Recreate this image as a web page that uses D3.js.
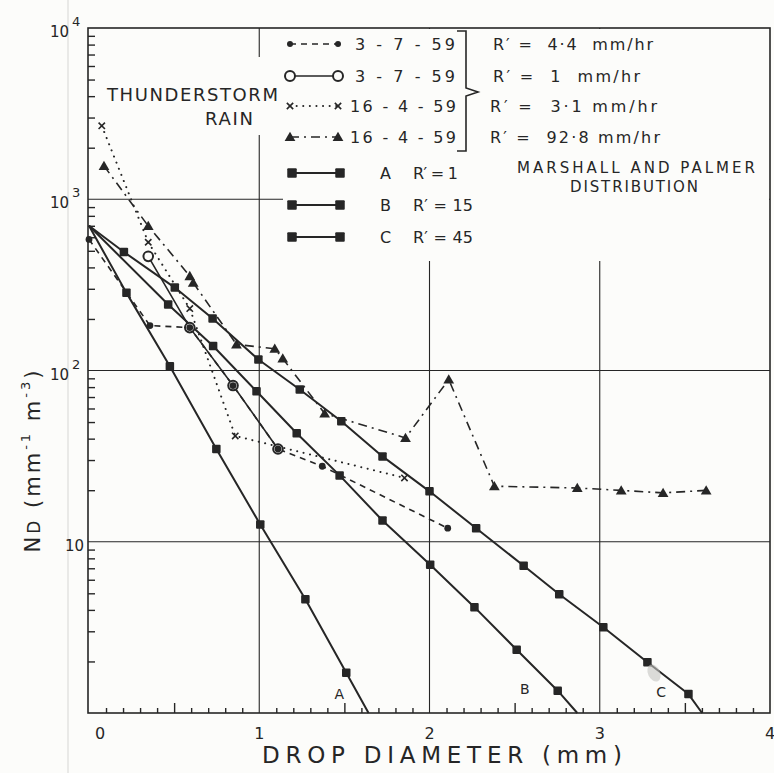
<!DOCTYPE html>
<html>
<head>
<meta charset="utf-8">
<script src="https://cdn.jsdelivr.net/npm/d3@7/dist/d3.min.js"></script>
<style>
html, body { margin: 0; padding: 0; background: #fcfcfa; }
svg { display: block; }
text { font-family: "DejaVu Sans", "Liberation Sans", sans-serif; fill: #262626; white-space: pre; }
</style>
</head>
<body>
<svg id="chart" width="774" height="773"></svg>
<script>
// ---- axes ----
const diameterTicks = [0, 1, 2, 3, 4];
const decadeValues = [10000, 1000, 100, 10];
const decadeExponents = ["4", "3", "2", ""];

// ---- Marshall and Palmer distributions (marked points) ----
const mpStartN = 700;                       // common value at D = 0
const curveA_d = [0.22, 0.475, 0.748, 1.006, 1.271, 1.511];
const curveA_n = [284, 106, 34.8, 12.6, 4.62, 1.72];
const curveA_end = 1.642;
const curveB_d = [0.465, 0.729, 0.984, 1.22, 1.472, 1.724, 2.004, 2.264, 2.512, 2.753];
const curveB_n = [243, 139, 75.7, 43.0, 24.4, 13.3, 7.34, 4.15, 2.34, 1.35];
const curveB_end = 2.868;
const curveC_d = [0.205, 0.504, 0.726, 0.995, 1.238, 1.482, 1.724, 2.0, 2.274, 2.553, 2.762, 3.021, 3.28, 3.521];
const curveC_n = [492, 305, 201, 116, 77.4, 50.5, 31.5, 19.7, 12.0, 7.24, 4.94, 3.17, 1.98, 1.29];
const curveC_end = 3.601;

// ---- thunderstorm rain spectra ----
// 3-7-59, R' = 4.4 mm/hr
const s44_d = [0, 0.358, 0.592, 0.846, 1.11, 1.37, 2.107];
const s44_n = [583, 183, 178, 81.7, 34.8, 27.6, 12.0];
// 3-7-59, R' = 1 mm/hr
const s1_d = [0.348, 0.592, 0.846, 1.11];
const s1_n = [464, 178, 81.7, 34.8];
// 16-4-59, R' = 3.1 mm/hr
const s31_d = [0.075, 0.348, 0.592, 0.859, 1.853];
const s31_n = [2685, 561, 230, 41.5, 23.6];
// 16-4-59, R' = 92.8 mm/hr
const s928_d = [0.088, 0.348, 0.592, 0.612, 0.866, 1.091, 1.138, 1.384, 1.859, 2.113, 2.381, 2.868, 3.126, 3.372, 3.625];
const s928_n = [1566, 698, 356, 326, 142, 134, 117.5, 56.1, 40.4, 88.6, 21.1, 20.6, 19.95, 19.3, 19.95];

// ---- legend texts ----
const legendDates = ["3 - 7 - 59", "3 - 7 - 59", "16 - 4 - 59", "16 - 4 - 59"];
const legendRates = ["R\u2032 =  4\u00b74  mm/hr", "R\u2032 =  1  mm/hr", "R\u2032 =  3\u00b71 mm/hr", "R\u2032 =  92\u00b78 mm/hr"];
const mpLetters = ["A", "B", "C"];
const mpRates = ["R\u2032 = 1", "R\u2032 = 15", "R\u2032 = 45"];

const ink = "#262626";
const paper = "#fcfcfa";
const svg = d3.select("#chart");

const x = d3.scaleLinear().domain([0, 4]).range([89, 770]);
const y = d3.scaleLog().domain([1, 1e4]).range([713, 28]);
const X0 = x(0) - 1, X1 = x(4), Y0 = y(1), Y1 = y(1e4);

const zip = (a, b) => a.map((v, i) => [v, b[i]]);
const line = d3.line().x(p => x(p[0])).y(p => y(p[1]));

// faint crease in the paper
svg.append("line").attr("x1", 68).attr("x2", 68).attr("y1", 0).attr("y2", 773)
  .attr("stroke", "#e3e3e0").attr("stroke-width", 1.5);

// ---- grid ----
const grid = svg.append("g").attr("stroke", ink).attr("stroke-width", 1.1);
grid.selectAll("line.gv").data(diameterTicks.slice(1, 4)).join("line").attr("class", "gv")
  .attr("x1", d => x(d)).attr("x2", d => x(d)).attr("y1", Y1).attr("y2", Y0);
grid.selectAll("line.gh").data(decadeValues.slice(1)).join("line").attr("class", "gh")
  .attr("x1", X0).attr("x2", X1).attr("y1", d => y(d)).attr("y2", d => y(d));

// blank areas behind the title and the legend
svg.append("rect").attr("x", 100).attr("y", 57).attr("width", 182).attr("height", 78).attr("fill", paper);
svg.append("rect").attr("x", 283).attr("y", Y1 + 1).attr("width", X1 - 284).attr("height", 232).attr("fill", paper);

// ---- frame and ticks ----
svg.append("rect").attr("x", X0).attr("y", Y1).attr("width", X1 - X0).attr("height", Y0 - Y1)
  .attr("fill", "none").attr("stroke", ink).attr("stroke-width", 1.6);

const minorY = [];
for (let k = 0; k < 4; k++) for (let m = 2; m <= 9; m++) minorY.push(m * Math.pow(10, k));
svg.append("g").attr("transform", `translate(${X0},0)`)
  .call(d3.axisLeft(y).tickValues(minorY).tickSize(-7).tickFormat(""))
  .call(g => g.select(".domain").remove())
  .selectAll("line").attr("stroke", ink).attr("stroke-width", 1.4);

const tenths = d3.range(1, 40).filter(i => i % 10 !== 0).map(i => i / 10);
svg.append("g").attr("transform", `translate(0,${Y0})`)
  .call(d3.axisBottom(x).tickValues(tenths).tickSize(-5).tickFormat(""))
  .call(g => g.select(".domain").remove())
  .selectAll("line").attr("stroke", ink).attr("stroke-width", 1.4)
  .attr("y2", d => Math.abs(d * 2 - Math.round(d * 2)) < 1e-6 ? -10 : -5);

// ---- tick labels ----
svg.selectAll("text.xl").data(diameterTicks).join("text").attr("class", "xl")
  .attr("x", d => x(d) + (d === 0 ? 11 : 0)).attr("y", 739)
  .attr("text-anchor", "middle").attr("font-size", 16).text(d => d);

decadeValues.forEach((v, i) => {
  const e = decadeExponents[i];
  const t = svg.append("text").attr("y", y(v) + 9).attr("font-size", 15)
    .attr("x", e ? 50 : 65).text("10");
  if (e) t.append("tspan").attr("font-size", 13).attr("dx", 3).attr("dy", -11).text(e);
});

// axis titles
svg.append("text").attr("x", 262).attr("y", 763).attr("font-size", 23)
  .attr("textLength", 360).attr("lengthAdjust", "spacing").text("DROP DIAMETER (mm)");

const yt = svg.append("text").attr("transform", "translate(40,460) rotate(-90)")
  .attr("text-anchor", "middle").attr("font-size", 21).attr("letter-spacing", 3);
yt.append("tspan").text("N");
yt.append("tspan").attr("font-size", 17).text("D");
yt.append("tspan").text(" (mm");
yt.append("tspan").attr("font-size", 13).attr("dy", -10).text("-1");
yt.append("tspan").attr("dy", 10).text(" m");
yt.append("tspan").attr("font-size", 13).attr("dy", -10).text("-3");
yt.append("tspan").attr("dy", 10).text(")");

// ---- marker drawing ----
function squares(g, pts, s) {
  g.selectAll(null).data(pts).join("rect")
    .attr("x", p => p[0] - s / 2).attr("y", p => p[1] - s / 2).attr("width", s).attr("height", s)
    .attr("rx", 1).attr("fill", ink);
}
function dots(g, pts, r) {
  g.selectAll(null).data(pts).join("circle").attr("cx", p => p[0]).attr("cy", p => p[1]).attr("r", r).attr("fill", ink);
}
function rings(g, pts, r) {
  g.selectAll(null).data(pts).join("circle").attr("cx", p => p[0]).attr("cy", p => p[1]).attr("r", r)
    .attr("fill", paper).attr("stroke", ink).attr("stroke-width", 2);
}
const triSym = d3.symbol(d3.symbolTriangle, 50)();
function triangles(g, pts) {
  g.selectAll(null).data(pts).join("path").attr("d", triSym)
    .attr("transform", p => `translate(${p[0]},${p[1] + 1})`).attr("fill", ink);
}
const xSym = d3.symbol(d3.symbolX, 28)();
function crosses(g, pts) {
  g.selectAll(null).data(pts).join("path").attr("d", xSym)
    .attr("transform", p => `translate(${p[0]},${p[1]})`).attr("fill", "none").attr("stroke", ink).attr("stroke-width", 1.6);
}
const px = pts => pts.map(p => [x(p[0]), y(p[1])]);

const styles = {
  mp:   { w: 2.0, dash: null },
  s44:  { w: 1.6, dash: "6,5" },
  s1:   { w: 1.6, dash: null },
  s31:  { w: 2.0, dash: "0.1,6.5", cap: "round" },
  s928: { w: 1.6, dash: "9,5,2,5" }
};
function path(g, pts, st) {
  g.append("path").attr("d", line(pts)).attr("fill", "none").attr("stroke", ink)
    .attr("stroke-width", st.w).attr("stroke-dasharray", st.dash).attr("stroke-linecap", st.cap || "butt")
    .attr("stroke-linejoin", "round");
}

const plot = svg.append("g");

// Marshall-Palmer straight lines from the common intercept to the lower axis
[[curveA_d, curveA_n, curveA_end], [curveB_d, curveB_n, curveB_end], [curveC_d, curveC_n, curveC_end]]
  .forEach(([d, n, end]) => {
    const pts = [[0, mpStartN], ...zip(d, n), [end, 1]];
    path(plot, pts, styles.mp);
  });

path(plot, zip(s928_d, s928_n), styles.s928);
path(plot, zip(s31_d, s31_n), styles.s31);
path(plot, zip(s44_d, s44_n), styles.s44);
path(plot, zip(s1_d, s1_n), styles.s1);

squares(plot, px(zip(curveA_d, curveA_n)), 8.5);
squares(plot, px(zip(curveB_d, curveB_n)), 8.5);
squares(plot, px(zip(curveC_d, curveC_n)), 8.5);
triangles(plot, px(zip(s928_d, s928_n)));
crosses(plot, px(zip(s31_d, s31_n)));
rings(plot, px(zip(s1_d, s1_n)), 4.8);
dots(plot, px(zip(s44_d, s44_n)), 3.4);

// curve letters
[["A", 1.47], ["B", 2.56], ["C", 3.36]].forEach(([t, d], i) => {
  svg.append("text").attr("x", x(d)).attr("y", [699, 694, 697][i]).attr("text-anchor", "middle")
    .attr("font-size", 14).text(t);
});

// small ink smudge near curve C
svg.append("ellipse").attr("cx", 654).attr("cy", 673).attr("rx", 6).attr("ry", 9)
  .attr("transform", "rotate(-25 654 673)").attr("fill", "#c4c4c2").attr("opacity", 0.6);

// ---- title ----
svg.append("text").attr("x", 107).attr("y", 101).attr("font-size", 18)
  .attr("textLength", 171).attr("lengthAdjust", "spacing").text("THUNDERSTORM");
svg.append("text").attr("x", 205).attr("y", 125).attr("font-size", 18)
  .attr("textLength", 48).attr("lengthAdjust", "spacing").text("RAIN");

// ---- legend ----
const leg = svg.append("g");
const rowY = [44, 76, 106, 137, 173, 205, 237];
const lx0 = 290, lx1 = 338;
const legendStyles = [styles.s44, styles.s1, styles.s31, styles.s928];
const legendMarkers = [
  p => dots(leg, p, 3), p => rings(leg, p, 5), p => crosses(leg, p), p => triangles(leg, p)
];
legendStyles.forEach((st, i) => {
  leg.append("line").attr("x1", lx0).attr("x2", lx1).attr("y1", rowY[i]).attr("y2", rowY[i])
    .attr("stroke", ink).attr("stroke-width", st.w).attr("stroke-dasharray", st.dash).attr("stroke-linecap", st.cap || "butt");
  legendMarkers[i]([[lx0, rowY[i]], [lx1, rowY[i]]]);
  leg.append("text").attr("x", i < 2 ? 355 : 350).attr("y", rowY[i] + 6).attr("font-size", 16)
    .attr("textLength", i < 2 ? 100 : 106).attr("lengthAdjust", "spacing").text(legendDates[i]);
  leg.append("text").attr("x", i < 2 ? 493 : 490).attr("y", rowY[i] + 6).attr("font-size", 16)
    .attr("textLength", [160, 147, 167, 170][i]).attr("lengthAdjust", "spacing").text(legendRates[i]);
});
// brace grouping the four dated spectra
leg.append("path")
  .attr("d", "M457,31 L466,31 L466,88 L478,92 L466,96 L466,151 L457,151")
  .attr("fill", "none").attr("stroke", ink).attr("stroke-width", 1.6);

mpLetters.forEach((t, i) => {
  const yy = rowY[4 + i];
  leg.append("line").attr("x1", 292).attr("x2", 340).attr("y1", yy).attr("y2", yy)
    .attr("stroke", ink).attr("stroke-width", 2);
  squares(leg, [[292, yy], [340, yy]], 9.5);
  leg.append("text").attr("x", 380).attr("y", yy + 6).attr("font-size", 16).text(t);
  leg.append("text").attr("x", 413).attr("y", yy + 6).attr("font-size", 16)
    .attr("textLength", i === 0 ? 45 : 60).attr("lengthAdjust", "spacing").text(mpRates[i]);
});
leg.append("text").attr("x", 517).attr("y", 173).attr("font-size", 15)
  .attr("textLength", 238).attr("lengthAdjust", "spacing").text("MARSHALL AND PALMER");
leg.append("text").attr("x", 570).attr("y", 192).attr("font-size", 15)
  .attr("textLength", 128).attr("lengthAdjust", "spacing").text("DISTRIBUTION");
</script>
</body>
</html>
